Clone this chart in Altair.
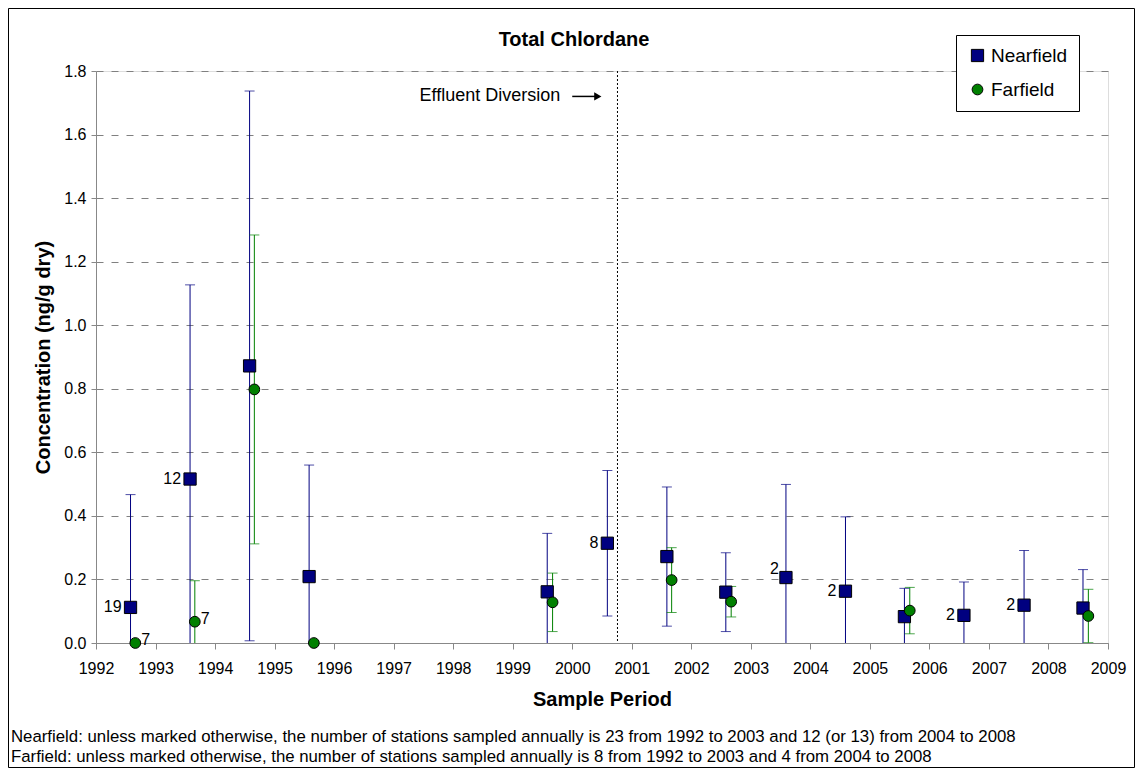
import altair as alt
import pandas as pd

FONT = "Liberation Sans"

# ---- data ----
near_date = [1992.58, 1993.58, 1994.58, 1995.58, 1999.58, 2000.59, 2001.59,
             2002.58, 2003.59, 2004.59, 2005.58, 2006.58, 2007.59, 2008.58]
near_mean = [0.112, 0.516, 0.872, 0.209, 0.161, 0.314, 0.272,
             0.160, 0.206, 0.163, 0.083, 0.087, 0.119, 0.110]
near_sd = [0.355, 0.611, 0.865, 0.351, 0.184, 0.229, 0.219,
           0.124, 0.293, 0.234, 0.089, 0.105, 0.172, 0.121]
near_n = ["19", "12", "", "", "", "8", "", "", "2", "2", "", "2", "2", ""]

far_date = [1992.66, 1993.66, 1994.66, 1995.66, 1999.67, 2001.67, 2002.67,
            2005.67, 2008.67]
far_mean = [0.0, 0.067, 0.798, 0.0, 0.128, 0.198, 0.130, 0.102, 0.085]
far_sd = [0.0, 0.129, 0.486, 0.0, 0.092, 0.102, 0.048, 0.073, 0.084]
far_n = ["7", "7", "", "", "", "", "", "", ""]

series_names = ["Nearfield", "Farfield"]
series_colors = ["#000080", "#008000"]
series_shapes = ["square", "circle"]

diversion_year = [2000.76]
annotation = ["Effluent Diversion"]
chart_title = ["Total Chlordane"]
year_ticks = list(range(1992, 2010))
conc_ticks = [0.0, 0.2, 0.4, 0.6, 0.8, 1.0, 1.2, 1.4, 1.6, 1.8]

note1 = ("Nearfield: unless marked otherwise, the number of stations sampled annually "
         "is 23 from 1992 to 2003 and 12 (or 13) from 2004 to 2008")
note2 = ("Farfield: unless marked otherwise, the number of stations sampled annually "
         "is 8 from 1992 to 2003 and 4 from 2004 to 2008")

rows = []
for d, m, s, n in zip(near_date, near_mean, near_sd, near_n):
    rows.append(dict(series="Nearfield", date=d, mean=m, sd=s, lo=m - s, hi=m + s, n=n))
for d, m, s, n in zip(far_date, far_mean, far_sd, far_n):
    rows.append(dict(series="Farfield", date=d, mean=m, sd=s, lo=m - s, hi=m + s, n=n))
df = pd.DataFrame(rows)

W, H = 1012, 572

xscale = alt.Scale(domain=[1992, 2009], nice=False, zero=False)
yscale = alt.Scale(domain=[0, 1.8], nice=False, zero=False)
cscale = alt.Scale(domain=series_names, range=series_colors)
sscale = alt.Scale(domain=series_names, range=series_shapes)

xenc = alt.X("date:Q", scale=xscale,
             axis=alt.Axis(title="Sample Period", values=year_ticks, format="d",
                           labelFlush=False, labelOverlap=False, grid=False,
                           tickSize=6, labelPadding=11, titlePadding=13,
                           titleFontSize=20, titleFontWeight="bold",
                           labelFontSize=16))

base = alt.Chart(df)
bars_data = base.transform_filter("datum.sd > 0")

rules = bars_data.mark_rule(clip=True, strokeWidth=1).encode(
    x=xenc,
    y=alt.Y("lo:Q", scale=yscale,
            axis=alt.Axis(title="Concentration (ng/g dry)", values=conc_ticks,
                          format=".1f", grid=True, gridDash=[7, 8],
                          gridColor="#808080", tickSize=5, labelPadding=5,
                          titlePadding=10, titleFontSize=20,
                          titleFontWeight="bold", labelFontSize=16)),
    y2="hi:Q",
    color=alt.Color("series:N", scale=cscale, legend=None),
)

caps_hi = bars_data.mark_tick(orient="horizontal", size=10, thickness=1, clip=True).encode(
    x="date:Q", y="hi:Q", color=alt.Color("series:N", scale=cscale, legend=None))
caps_lo = bars_data.mark_tick(orient="horizontal", size=10, thickness=1, clip=True).encode(
    x="date:Q", y="lo:Q", color=alt.Color("series:N", scale=cscale, legend=None))

div_df = pd.DataFrame({"x": diversion_year})
div_line = alt.Chart(div_df).mark_rule(color="black", strokeDash=[2, 2], strokeWidth=1).encode(
    x="x:Q")

points = base.mark_point(filled=True, opacity=1, stroke="black", strokeWidth=1).encode(
    x="date:Q",
    y="mean:Q",
    color=alt.Color("series:N", scale=cscale,
                    legend=alt.Legend(title=None, orient="none", legendX=860, legendY=-36,
                                      fillColor="white", strokeColor="black",
                                      padding=11, symbolOffset=1, labelFontSize=19,
                                      labelFont=FONT, labelColor="black", labelOffset=4,
                                      rowPadding=14, symbolSize=100,
                                      symbolStrokeColor="black", symbolStrokeWidth=1)),
    shape=alt.Shape("series:N", scale=sscale),
    size=alt.Size("series:N", scale=alt.Scale(domain=series_names, range=[150, 115]),
                  legend=None),
)

near_lab = base.transform_filter(
    "datum.series == 'Nearfield' && datum.n != '' && (datum.date < 2003 || datum.date > 2004)"
).mark_text(align="right", baseline="middle", dx=-9, fontSize=16, font=FONT, color="black").encode(
    x="date:Q", y="mean:Q", text="n:N")

near_lab2 = base.transform_filter(
    "datum.series == 'Nearfield' && datum.n != '' && datum.date > 2003 && datum.date < 2004"
).mark_text(align="right", baseline="middle", dx=-7, dy=-9, fontSize=16, font=FONT,
            color="black").encode(x="date:Q", y="mean:Q", text="n:N")

far_lab = base.transform_filter(
    "datum.series == 'Farfield' && datum.n != ''"
).mark_text(align="left", baseline="middle", dx=6, dy=-3, fontSize=16, font=FONT,
            color="black").encode(x="date:Q", y="mean:Q", text="n:N")

ann_df = pd.DataFrame({"x": [1999.80], "x0": [2000.0], "x1": [2000.40], "xh": [2000.43],
                       "y": [1.72], "t": annotation})
ann_text = alt.Chart(ann_df).mark_text(align="right", baseline="middle", fontSize=18,
                                       font=FONT, color="black").encode(
    x="x:Q", y="y:Q", text="t:N")
ann_arrow = alt.Chart(ann_df).mark_rule(color="black", strokeWidth=1.5).encode(
    x="x0:Q", x2="x1:Q", y="y:Q")
ann_head = alt.Chart(ann_df).mark_point(shape="triangle-right", filled=True, size=70,
                                        color="black", opacity=1).encode(
    x="xh:Q", y="y:Q")

title_df = pd.DataFrame({"t": chart_title})
title_mark = alt.Chart(title_df).mark_text(
    align="center", baseline="middle", fontSize=20, fontWeight="bold", font=FONT,
    color="black").encode(x=alt.value(478), y=alt.value(-31), text="t:N")

notes_df = pd.DataFrame({"t": [note1, note2], "row": [0, 1]})
note_a = alt.Chart(notes_df).transform_filter("datum.row == 0").mark_text(
    align="left", baseline="middle", fontSize=16.8, font=FONT, color="black").encode(
    x=alt.value(-85), y=alt.value(666), text="t:N")
note_b = alt.Chart(notes_df).transform_filter("datum.row == 1").mark_text(
    align="left", baseline="middle", fontSize=16.8, font=FONT, color="black").encode(
    x=alt.value(-85), y=alt.value(686), text="t:N")

frame = alt.Chart(pd.DataFrame({"a": [0]})).mark_rect(
    fillOpacity=0, stroke="black", strokeWidth=1).encode(
    x=alt.value(-87.5), x2=alt.value(1038.5), y=alt.value(-62.5), y2=alt.value(696.5))

chart = alt.layer(
    rules, caps_hi, caps_lo, div_line, points, near_lab, near_lab2, far_lab,
    ann_text, ann_arrow, ann_head, title_mark, note_a, note_b, frame
).resolve_legend(
    color="independent", shape="independent", size="independent"
).properties(
    width=W, height=H,
    autosize=alt.AutoSizeParams(type="none"),
    padding={"left": 88, "top": 63, "right": 27, "bottom": 125},
).configure_view(
    stroke="#808080", strokeWidth=1
).configure_axis(
    labelFont=FONT, titleFont=FONT, labelColor="black", titleColor="black",
    domainColor="black", tickColor="black"
).configure(background="white")

chart.save("out.html", embed_options={"renderer": "svg", "actions": False})
